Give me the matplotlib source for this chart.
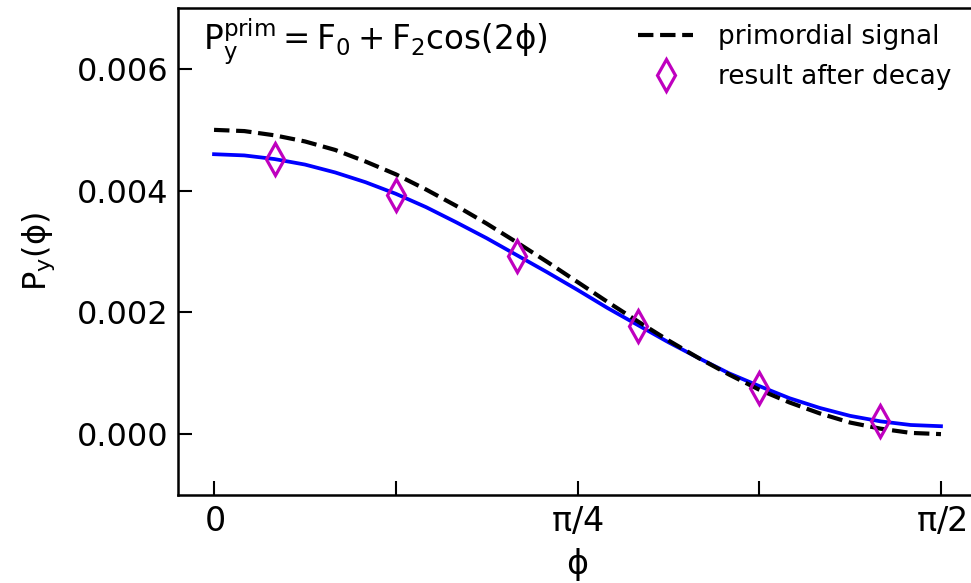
import numpy as np
import matplotlib
matplotlib.use('Agg')
import matplotlib.pyplot as plt

plt.rcParams['mathtext.default'] = 'regular'
plt.rcParams['font.family'] = ['DejaVu Sans']

# phi grid in units of pi/48 (0 .. pi/2)
phi_steps = list(range(25))
primordial = [0.00500, 0.00498, 0.00491, 0.00481, 0.00467, 0.00448, 0.00427,
              0.00402, 0.00375, 0.00346, 0.00315, 0.00283, 0.00250, 0.00217,
              0.00185, 0.00154, 0.00125, 0.00098, 0.00073, 0.00052, 0.00034,
              0.00019, 0.00009, 0.00002, 0.00000]
fit_curve = [0.00460, 0.00458, 0.00452, 0.00443, 0.00430, 0.00414, 0.00395,
             0.00373, 0.00348, 0.00322, 0.00294, 0.00266, 0.00237, 0.00207,
             0.00179, 0.00151, 0.00125, 0.00100, 0.00079, 0.00059, 0.00043,
             0.00030, 0.00021, 0.00015, 0.00013]

# decay results, phi in units of pi/24
pts_steps = [1, 3, 5, 7, 9, 11]
pts_vals = [0.00452, 0.00393, 0.00293, 0.00178, 0.00076, 0.00022]

xtick_labels = ['$0$', '', r'$\pi/4$', '', r'$\pi/2$']

phi = np.array(phi_steps) * np.pi / 48
phi_pts = np.array(pts_steps) * np.pi / 24

fig = plt.figure(figsize=(9.71, 5.83), dpi=100)
ax = fig.add_axes([0.1833, 0.151, 0.8229, 0.835])

ax.plot(phi, fit_curve, color='b', lw=2.7)
ax.plot(phi, primordial, 'k--', lw=3.0, label='primordial signal')
ax.plot(phi_pts, pts_vals, 'd', color='m', mfc='none', ms=16, mew=2.3,
        label='result after decay')

ax.set_xlim(-0.0779, np.pi / 2 + 0.0779)
ax.set_ylim(-0.001, 0.007)
ax.set_xticks(np.arange(5) * np.pi / 8)
ax.set_xticklabels(xtick_labels)
ax.set_yticks([0, 0.002, 0.004, 0.006])
ax.set_yticklabels(['0.000', '0.002', '0.004', '0.006'])

ax.tick_params(direction='in', length=10, width=1.5, pad=7)
ax.tick_params(axis='x', labelsize=24)
ax.tick_params(axis='y', labelsize=23)
for s in ax.spines.values():
    s.set_linewidth(1.8)
ax.spines['right'].set_visible(False)

ax.set_xlabel(r'$\phi$', fontsize=24, labelpad=6)
ax.set_ylabel(r'$P_y(\phi)$', fontsize=23, labelpad=14)

ax.text(0.031, 0.982, r'$P_y^{prim} = F_0 + F_2 cos(2\phi)$',
        transform=ax.transAxes, fontsize=23.5, va='top', ha='left')

ax.legend(loc='upper left', bbox_to_anchor=(0.576, 0.967), frameon=False,
          fontsize=19, handlelength=2.08, handletextpad=0.95, numpoints=1,
          borderpad=0, borderaxespad=0, labelspacing=0.53)

fig.savefig('out.png', dpi=100)
